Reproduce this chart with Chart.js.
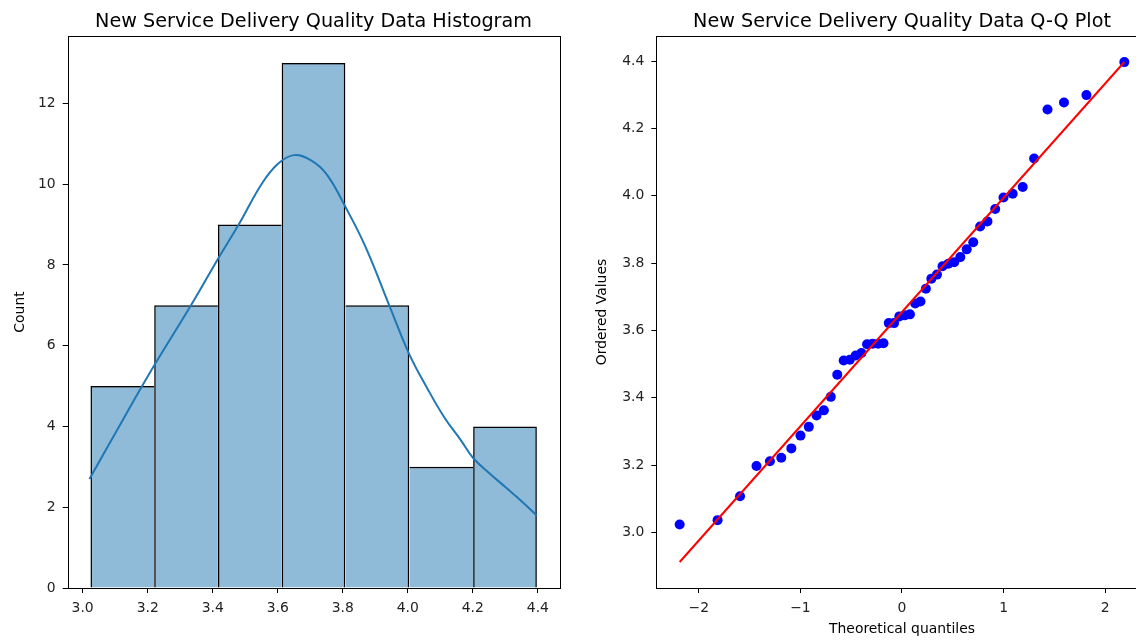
<!DOCTYPE html>
<html>
<head>
<meta charset="utf-8">
<script src="https://cdn.jsdelivr.net/npm/chart.js@4/dist/chart.umd.min.js"></script>
<style>
  html, body { margin: 0; padding: 0; background: #fff; overflow: hidden; }
  body { width: 1136px; height: 641px; position: relative; }
  canvas { position: absolute; top: 0; }
</style>
</head>
<body>
<canvas id="histChart" width="627" height="641" style="left:0px"></canvas>
<canvas id="qqChart" width="664" height="641" style="left:570px"></canvas>
<script>
// histogram: bin edges and counts
const binEdges = [3.024, 3.220, 3.416, 3.612, 3.808, 4.005, 4.201, 4.397];
const binCounts = [5, 7, 9, 13, 7, 3, 4];

// kde curve (already scaled to counts)
const kdeX = [3.021, 3.11, 3.2, 3.342, 3.416, 3.48, 3.55, 3.60, 3.65, 3.70, 3.75, 3.808, 3.87, 3.943, 4.004, 4.061, 4.112, 4.164, 4.201, 4.25, 4.30, 4.35, 4.397];
const kdeY = [2.70, 3.97, 5.24, 7.12, 8.15, 9.0, 10.0, 10.5, 10.72, 10.6, 10.25, 9.44, 8.45, 7.0, 5.80, 4.93, 4.23, 3.65, 3.22, 2.85, 2.50, 2.15, 1.79];

// q-q plot: theoretical quantiles and ordered values
const theoQuantiles = [
  -2.188, -1.815, -1.594, -1.432, -1.300, -1.188, -1.089, -0.999, -0.917, -0.841, -0.769, -0.701,
  -0.637, -0.574, -0.514, -0.456, -0.399, -0.344, -0.289, -0.235, -0.182, -0.130, -0.078, -0.026,
  0.026, 0.078, 0.130, 0.182, 0.235, 0.289, 0.344, 0.399, 0.456, 0.514, 0.574, 0.637,
  0.701, 0.769, 0.841, 0.917, 0.999, 1.089, 1.188, 1.300, 1.432, 1.594, 1.815, 2.188
];
const orderedValues = [
  3.024, 3.037, 3.108, 3.198, 3.212, 3.222, 3.250, 3.288, 3.314, 3.348, 3.363, 3.403,
  3.469, 3.511, 3.513, 3.526, 3.533, 3.559, 3.561, 3.561, 3.562, 3.622, 3.622, 3.642,
  3.645, 3.648, 3.680, 3.686, 3.724, 3.754, 3.766, 3.791, 3.798, 3.803, 3.818, 3.841,
  3.862, 3.909, 3.924, 3.961, 3.995, 4.006, 4.026, 4.111, 4.256, 4.277, 4.299, 4.397
];
// fitted line: intercept, slope
const fitLine = [3.655, 0.3393];

// tick labels
const histXTicks = [3.0, 3.2, 3.4, 3.6, 3.8, 4.0, 4.2, 4.4];
const histYTicks = [0, 2, 4, 6, 8, 10, 12];
const qqXTicks = [-2, -1, 0, 1, 2];
const qqYTicks = [3.0, 3.2, 3.4, 3.6, 3.8, 4.0, 4.2, 4.4];

Chart.defaults.font.family = "'DejaVu Sans', sans-serif";
Chart.defaults.color = '#222';
Chart.defaults.animation = false;

// box around the axes like matplotlib spines
const framePlugin = {
  id: 'frame',
  afterDatasetsDraw(chart) {
    const a = chart.chartArea;
    const ctx = chart.ctx;
    ctx.save();
    ctx.strokeStyle = '#000';
    ctx.lineWidth = 1;
    ctx.strokeRect(Math.round(a.left) + 0.5, Math.round(a.top) + 0.5,
      Math.round(a.right - a.left), Math.round(a.bottom - a.top));
    ctx.restore();
  }
};

// title centred over the plot area (not the whole canvas)
const axesTitlePlugin = {
  id: 'axesTitle',
  afterDraw(chart, args, opts) {
    const a = chart.chartArea;
    const ctx = chart.ctx;
    ctx.save();
    ctx.font = "19.2px 'DejaVu Sans', sans-serif";
    ctx.fillStyle = '#000';
    ctx.textAlign = 'center';
    ctx.textBaseline = 'alphabetic';
    ctx.fillText(opts.text, (a.left + a.right) / 2, 26.7);
    ctx.restore();
  }
};

function setTicks(list) {
  return function (scale) {
    scale.ticks = list.map(v => ({ value: v }));
  };
}

function axisOpts(ticks, fmt, extra) {
  return Object.assign({
    type: 'linear',
    afterBuildTicks: setTicks(ticks),
    grid: { offset: false, drawOnChartArea: false, drawTicks: true, tickLength: 5, color: '#000', lineWidth: 1 },
    border: { display: false },
    ticks: { font: { size: 13.9 }, color: '#222', padding: 7, maxRotation: 0, autoSkip: false, callback: fmt }
  }, extra);
}

function minusFmt(v) {
  return v < 0 ? '\u2212' + Math.abs(v) : String(v);
}

// edge only on the side that is not covered by a taller neighbour
function barEdges(c) {
  const i = c.dataIndex;
  const last = binCounts.length - 1;
  const needRight = i === last || binCounts[i + 1] < binCounts[i];
  const needLeft = i === 0 || binCounts[i - 1] <= binCounts[i];
  return { top: 1.5, left: needLeft ? 1.5 : 0, bottom: 0, right: needRight ? 1.5 : 0 };
}

// ---- histogram ----
const binCenters = binCounts.map((c, i) => (binEdges[i] + binEdges[i + 1]) / 2);

new Chart(document.getElementById('histChart'), {
  type: 'bar',
  data: {
    datasets: [
      {
        type: 'line',
        data: kdeX.map((x, i) => ({ x: x, y: kdeY[i] })),
        borderColor: '#1f77b4',
        borderWidth: 2,
        pointRadius: 0,
        tension: 0.4,
        order: 1
      },
      {
        type: 'bar',
        data: binCenters.map((x, i) => ({ x: x, y: binCounts[i] })),
        backgroundColor: 'rgba(31,119,180,0.5)',
        borderColor: '#000',
        borderWidth: barEdges,
        inflateAmount: 0,
        barPercentage: 1,
        categoryPercentage: 1,
        order: 2
      }
    ]
  },
  options: {
    responsive: false,
    layout: { padding: { left: 0, right: 67.7, top: 36, bottom: 0 } },
    plugins: {
      legend: { display: false },
      tooltip: { enabled: false },
      axesTitle: { text: 'New Service Delivery Quality Data Histogram' }
    },
    scales: {
      x: axisOpts(histXTicks, v => v.toFixed(1), {
        min: 2.954, max: 4.466, offset: false,
        afterFit: s => { s.height = 53; }
      }),
      y: axisOpts(histYTicks, v => String(v), {
        min: 0, max: 13.67,
        title: { display: true, text: 'Count', color: '#000', font: { size: 13.9 }, padding: { top: 11.7, bottom: 0 } },
        afterFit: s => { s.width = 67.7; }
      })
    }
  },
  plugins: [framePlugin, axesTitlePlugin]
});

// ---- q-q plot ----
const qqMin = theoQuantiles[0];
const qqMax = theoQuantiles[theoQuantiles.length - 1];

new Chart(document.getElementById('qqChart'), {
  type: 'scatter',
  data: {
    datasets: [
      {
        data: [qqMin, qqMax].map(x => ({ x: x, y: fitLine[0] + fitLine[1] * x })),
        showLine: true,
        borderColor: '#ff0000',
        borderWidth: 2,
        pointRadius: 0,
        order: 1
      },
      {
        data: theoQuantiles.map((x, i) => ({ x: x, y: orderedValues[i] })),
        backgroundColor: '#0000ff',
        borderWidth: 0,
        pointRadius: 5,
        order: 2
      }
    ]
  },
  options: {
    responsive: false,
    layout: { padding: { left: 0, right: 86.3, top: 36, bottom: 0 } },
    plugins: {
      legend: { display: false },
      tooltip: { enabled: false },
      axesTitle: { text: 'New Service Delivery Quality Data Q-Q Plot' }
    },
    scales: {
      x: axisOpts(qqXTicks, minusFmt, {
        min: -2.418, max: 2.418,
        title: { display: true, text: 'Theoretical quantiles', color: '#000', font: { size: 13.9 }, padding: { top: 0, bottom: 3.5 } },
        afterFit: s => { s.height = 53; }
      }),
      y: axisOpts(qqYTicks, v => v.toFixed(1), {
        min: 2.8355, max: 4.4745,
        title: { display: true, text: 'Ordered Values', color: '#000', font: { size: 13.9 }, padding: { top: 23.7, bottom: 0 } },
        afterFit: s => { s.width = 86.3; }
      })
    }
  },
  plugins: [framePlugin, axesTitlePlugin]
});
</script>
</body>
</html>
